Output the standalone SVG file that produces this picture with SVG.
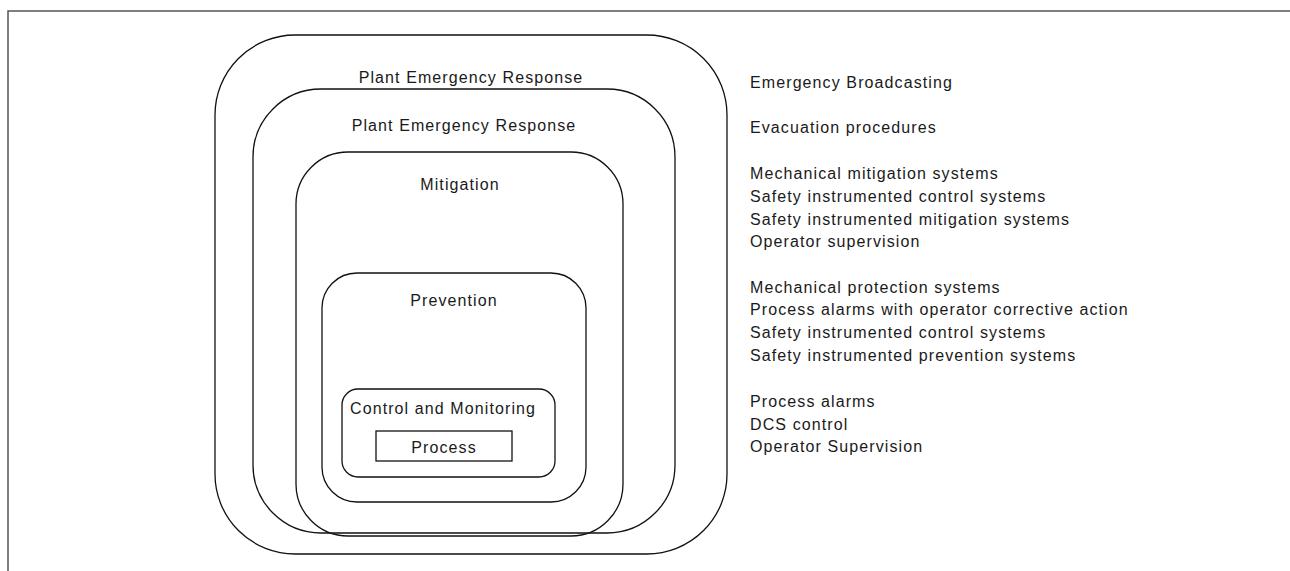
<svg xmlns="http://www.w3.org/2000/svg" width="1290" height="571" viewBox="0 0 1290 571">
<style>
  .frame { fill: none; stroke: #555; stroke-width: 1.5; }
  .box { fill: none; stroke: #111; stroke-width: 1.3; }
  text { font-family: "Liberation Sans", Arial, sans-serif; font-size: 16px; letter-spacing: 1.1px; fill: #1a1a1a; }
  .c { text-anchor: middle; }
</style>
<rect width="1290" height="571" fill="#fff"/>
<g id="frame">
  <polyline class="frame" points="8,571 8,11 1290,11"/>
</g>
<g id="plant-emergency-response-outer">
  <rect class="box" x="215" y="35" width="512" height="519" rx="80" ry="80"/>
  <text class="c" x="471" y="83">Plant Emergency Response</text>
</g>
<g id="plant-emergency-response-inner">
  <rect class="box" x="253" y="89" width="422" height="444" rx="68" ry="68"/>
  <text class="c" x="464" y="131">Plant Emergency Response</text>
</g>
<g id="mitigation">
  <rect class="box" x="296" y="152" width="327" height="384" rx="52" ry="52"/>
  <text class="c" x="460" y="190">Mitigation</text>
</g>
<g id="prevention">
  <rect class="box" x="322" y="273" width="264" height="229" rx="35" ry="35"/>
  <text class="c" x="454" y="306">Prevention</text>
</g>
<g id="control-and-monitoring">
  <rect class="box" x="342" y="389" width="213" height="88" rx="16" ry="16"/>
  <text x="350" y="414">Control and Monitoring</text>
</g>
<g id="process">
  <rect class="box" x="376" y="431" width="136" height="30"/>
  <text class="c" x="444" y="453">Process</text>
</g>
<g id="connectors"></g>
<g id="descriptions">
  <text x="750" y="88">Emergency Broadcasting</text>
  <text x="750" y="133">Evacuation procedures</text>
  <text x="750" y="179">Mechanical mitigation systems</text>
  <text x="750" y="202">Safety instrumented control systems</text>
  <text x="750" y="225">Safety instrumented mitigation systems</text>
  <text x="750" y="247">Operator supervision</text>
  <text x="750" y="293">Mechanical protection systems</text>
  <text x="750" y="315">Process alarms with operator corrective action</text>
  <text x="750" y="338">Safety instrumented control systems</text>
  <text x="750" y="361">Safety instrumented prevention systems</text>
  <text x="750" y="407">Process alarms</text>
  <text x="750" y="430">DCS control</text>
  <text x="750" y="452">Operator Supervision</text>
</g>
</svg>
